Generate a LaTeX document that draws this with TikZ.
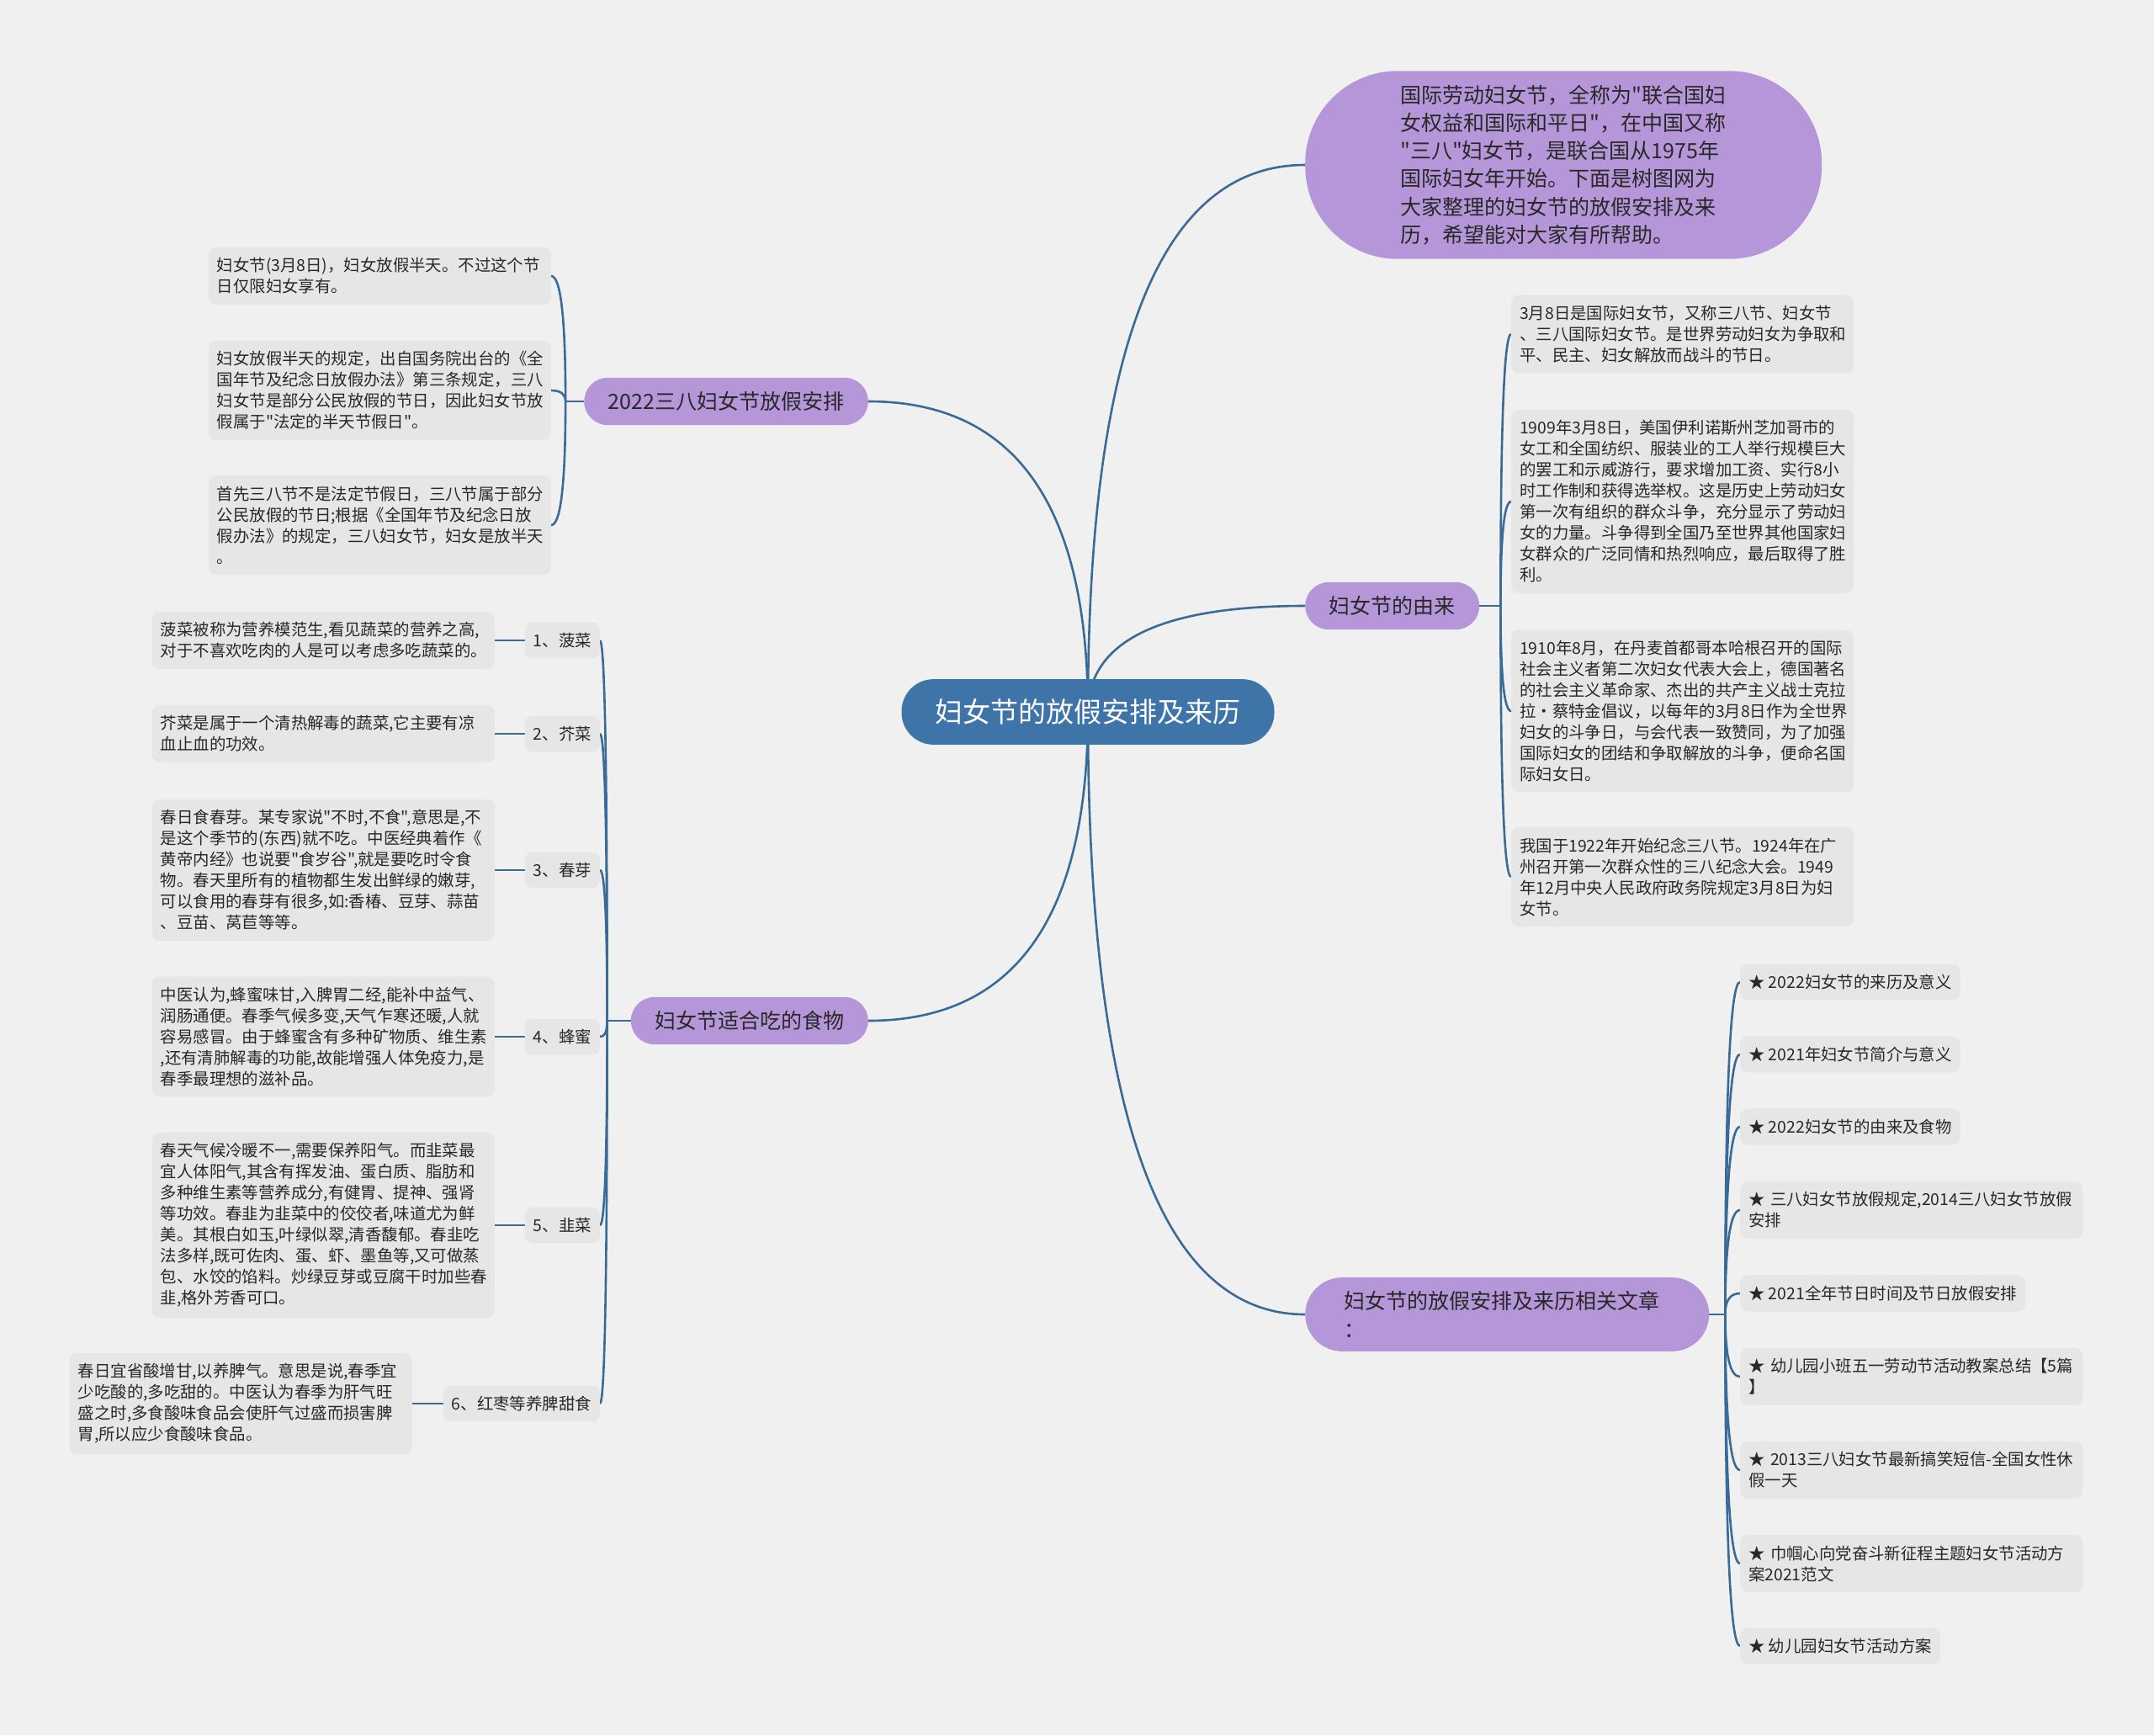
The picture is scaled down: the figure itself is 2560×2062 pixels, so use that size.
\documentclass[tikz,border=0pt]{standalone}
\usepackage{fontspec}
\setmainfont{Noto Sans CJK SC}[Ligatures=TeXOff]
\usetikzlibrary{calc}
\definecolor{bgc}{HTML}{F0F0F0}
\definecolor{leafc}{HTML}{E6E6E6}
\definecolor{purp}{HTML}{B596D8}
\definecolor{cenc}{HTML}{3E74A8}
\definecolor{linec}{HTML}{3A6A96}
\definecolor{txt}{HTML}{282828}
\pgfdeclarelayer{edgelayer}
\pgfsetlayers{edgelayer,main}
\newcommand{\brc}[2]{\draw[conn] (#1) .. controls ($(#1)!0.667!(#1|-#2)$) and ($(#2)!0.667!(#1|-#2)$) .. (#2);}
\tikzset{
  conn/.style={draw=linec, line width=2.6pt},
  mainnode/.style={fill=purp, text=txt, rounded corners=28pt, font=\fontsize{25}{33.3}\selectfont, inner xsep=28.5pt, inner ysep=16.5pt, align=left},
  leaf/.style={fill=leafc, text=txt, rounded corners=9pt, font=\fontsize{19.4}{25}\selectfont, inner xsep=10pt, inner ysep=12.5pt, align=left},
  wide/.style={text width=387pt},
}
\begin{document}
\begin{tikzpicture}[x=1pt,y=-1pt]
\useasboundingbox (0,0) rectangle (2560,2062);

% central
\node[fill=cenc, text=white, rounded corners=38pt, font=\fontsize{33}{40}\selectfont, inner xsep=40pt, inner ysep=23.5pt] (c) at (1293,846) {妇女节的放假安排及来历};

% main branches
\node[mainnode, rounded corners=110pt, inner xsep=113pt, text width=388pt, anchor=west] (intro) at (1551,196) {国际劳动妇女节，全称为"联合国妇\\女权益和国际和平日"，在中国又称\\"三八"妇女节，是联合国从1975年\\国际妇女年开始。下面是树图网为\\大家整理的妇女节的放假安排及来\\历，希望能对大家有所帮助。};
\node[mainnode, anchor=west] (yl) at (1551,720) {妇女节的由来};
\node[mainnode, rounded corners=44pt, inner xsep=46pt, text width=388pt, anchor=west] (xg) at (1551,1562) {妇女节的放假安排及来历相关文章\\：};
\node[mainnode, anchor=east] (fj) at (1032,477) {2022三八妇女节放假安排};
\node[mainnode, anchor=east] (sw) at (1032,1213) {妇女节适合吃的食物};

% origin leaves
\node[leaf, wide, anchor=west] (r1) at (1796,397) {3月8日是国际妇女节，又称三八节、妇女节\\、三八国际妇女节。是世界劳动妇女为争取和\\平、民主、妇女解放而战斗的节日。};
\node[leaf, wide, anchor=west] (r2) at (1796,596) {1909年3月8日，美国伊利诺斯州芝加哥市的\\女工和全国纺织、服装业的工人举行规模巨大\\的罢工和示威游行，要求增加工资、实行8小\\时工作制和获得选举权。这是历史上劳动妇女\\第一次有组织的群众斗争，充分显示了劳动妇\\女的力量。斗争得到全国乃至世界其他国家妇\\女群众的广泛同情和热烈响应，最后取得了胜\\利。};
\node[leaf, wide, anchor=west] (r3) at (1796,845) {1910年8月，在丹麦首都哥本哈根召开的国际\\社会主义者第二次妇女代表大会上，德国著名\\的社会主义革命家、杰出的共产主义战士克拉\\拉·蔡特金倡议，以每年的3月8日作为全世界\\妇女的斗争日，与会代表一致赞同，为了加强\\国际妇女的团结和争取解放的斗争，便命名国\\际妇女日。};
\node[leaf, wide, anchor=west] (r4) at (1796,1042) {我国于1922年开始纪念三八节。1924年在广\\州召开第一次群众性的三八纪念大会。1949\\年12月中央人民政府政务院规定3月8日为妇\\女节。};

% holiday leaves
\node[leaf, wide, anchor=east] (l1) at (655,328) {妇女节(3月8日)，妇女放假半天。不过这个节\\日仅限妇女享有。};
\node[leaf, wide, anchor=east] (l2) at (655,464) {妇女放假半天的规定，出自国务院出台的《全\\国年节及纪念日放假办法》第三条规定，三八\\妇女节是部分公民放假的节日，因此妇女节放\\假属于"法定的半天节假日"。};
\node[leaf, wide, anchor=east] (l3) at (655,624) {首先三八节不是法定节假日，三八节属于部分\\公民放假的节日;根据《全国年节及纪念日放\\假办法》的规定，三八妇女节，妇女是放半天\\。};

% food middle nodes
\node[leaf, anchor=east] (m1) at (713,761) {1、菠菜};
\node[leaf, anchor=east] (m2) at (713,872) {2、芥菜};
\node[leaf, anchor=east] (m3) at (713,1034) {3、春芽};
\node[leaf, anchor=east] (m4) at (713,1232) {4、蜂蜜};
\node[leaf, anchor=east] (m5) at (713,1456) {5、韭菜};
\node[leaf, anchor=east] (m6) at (713,1668) {6、红枣等养脾甜食};

% food leaves
\node[leaf, wide, anchor=east] (f1) at (588,761) {菠菜被称为营养模范生,看见蔬菜的营养之高,\\对于不喜欢吃肉的人是可以考虑多吃蔬菜的。};
\node[leaf, wide, anchor=east] (f2) at (588,872) {芥菜是属于一个清热解毒的蔬菜,它主要有凉\\血止血的功效。};
\node[leaf, wide, anchor=east] (f3) at (588,1034) {春日食春芽。某专家说"不时,不食",意思是,不\\是这个季节的(东西)就不吃。中医经典着作《\\黄帝内经》也说要"食岁谷",就是要吃时令食\\物。春天里所有的植物都生发出鲜绿的嫩芽,\\可以食用的春芽有很多,如:香椿、豆芽、蒜苗\\、豆苗、莴苣等等。};
\node[leaf, wide, anchor=east] (f4) at (588,1232) {中医认为,蜂蜜味甘,入脾胃二经,能补中益气、\\润肠通便。春季气候多变,天气乍寒还暖,人就\\容易感冒。由于蜂蜜含有多种矿物质、维生素\\,还有清肺解毒的功能,故能增强人体免疫力,是\\春季最理想的滋补品。};
\node[leaf, wide, anchor=east] (f5) at (588,1456) {春天气候冷暖不一,需要保养阳气。而韭菜最\\宜人体阳气,其含有挥发油、蛋白质、脂肪和\\多种维生素等营养成分,有健胃、提神、强肾\\等功效。春韭为韭菜中的佼佼者,味道尤为鲜\\美。其根白如玉,叶绿似翠,清香馥郁。春韭吃\\法多样,既可佐肉、蛋、虾、墨鱼等,又可做蒸\\包、水饺的馅料。炒绿豆芽或豆腐干时加些春\\韭,格外芳香可口。};
\node[leaf, wide, anchor=east] (f6) at (490,1668) {春日宜省酸增甘,以养脾气。意思是说,春季宜\\少吃酸的,多吃甜的。中医认为春季为肝气旺\\盛之时,多食酸味食品会使肝气过盛而损害脾\\胃,所以应少食酸味食品。};

% article leaves
\node[leaf, anchor=west] (a1) at (2068,1167) {★ 2022妇女节的来历及意义};
\node[leaf, anchor=west] (a2) at (2068,1253) {★ 2021年妇女节简介与意义};
\node[leaf, anchor=west] (a3) at (2068,1339) {★ 2022妇女节的由来及食物};
\node[leaf, wide, anchor=west] (a4) at (2068,1438) {★ 三八妇女节放假规定,2014三八妇女节放假\\安排};
\node[leaf, anchor=west] (a5) at (2068,1537) {★ 2021全年节日时间及节日放假安排};
\node[leaf, wide, anchor=west] (a6) at (2068,1636) {★ 幼儿园小班五一劳动节活动教案总结【5篇\\】};
\node[leaf, wide, anchor=west] (a7) at (2068,1747) {★ 2013三八妇女节最新搞笑短信-全国女性休\\假一天};
\node[leaf, wide, anchor=west] (a8) at (2068,1858) {★ 巾帼心向党奋斗新征程主题妇女节活动方\\案2021范文};
\node[leaf, anchor=west] (a9) at (2068,1956) {★ 幼儿园妇女节活动方案};

% junctions
\coordinate (jR) at ($(yl.east)+(25,0)$);
\coordinate (jL) at ($(fj.west)+(-22,0)$);
\coordinate (jF) at ($(sw.west)+(-28,0)$);
\coordinate (jA) at ($(xg.east)+(19,0)$);

\begin{pgfonlayer}{edgelayer}
\fill[bgc] (0,0) rectangle (2560,2062);
% central connectors
\brc{c.center}{intro.west}
\brc{c.center}{yl.west}
\brc{c.center}{xg.west}
\brc{c.center}{fj.east}
\brc{c.center}{sw.east}
% origin
\draw[conn] (yl.east) -- (jR);
\brc{jR}{r1.west}
\brc{jR}{r2.west}
\brc{jR}{r3.west}
\brc{jR}{r4.west}
% holiday
\draw[conn] (fj.west) -- (jL);
\brc{jL}{l1.east}
\brc{jL}{l2.east}
\brc{jL}{l3.east}
% food
\draw[conn] (sw.west) -- (jF);
\brc{jF}{m1.east}
\brc{jF}{m2.east}
\brc{jF}{m3.east}
\brc{jF}{m4.east}
\brc{jF}{m5.east}
\brc{jF}{m6.east}
\draw[conn] (f1.east) -- (m1.west);
\draw[conn] (f2.east) -- (m2.west);
\draw[conn] (f3.east) -- (m3.west);
\draw[conn] (f4.east) -- (m4.west);
\draw[conn] (f5.east) -- (m5.west);
\draw[conn] (f6.east) -- (m6.west);
% articles
\draw[conn] (xg.east) -- (jA);
\brc{jA}{a1.west}
\brc{jA}{a2.west}
\brc{jA}{a3.west}
\brc{jA}{a4.west}
\brc{jA}{a5.west}
\brc{jA}{a6.west}
\brc{jA}{a7.west}
\brc{jA}{a8.west}
\brc{jA}{a9.west}
\end{pgfonlayer}
\end{tikzpicture}
\end{document}
